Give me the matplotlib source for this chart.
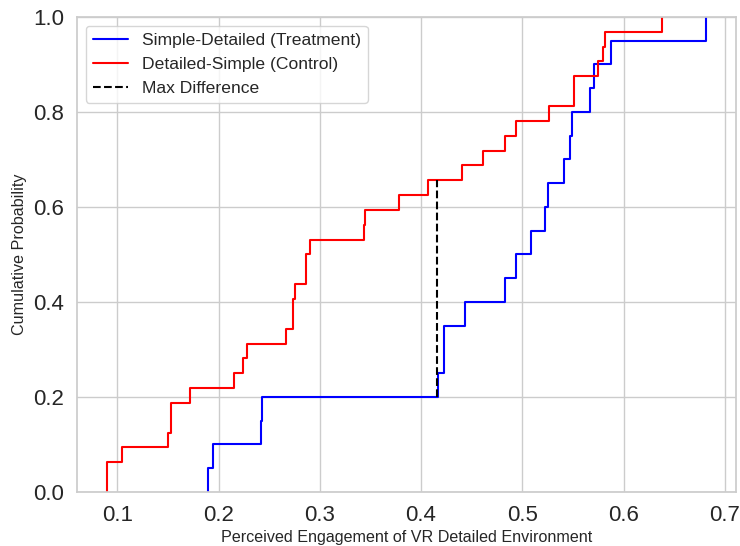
import numpy as np
import matplotlib
matplotlib.use("Agg")
import matplotlib.pyplot as plt
import seaborn as sns

# engagement scores per group
treatment = [0.1898, 0.1950, 0.2416, 0.2426, 0.4171, 0.4231, 0.4231, 0.4439,
             0.4825, 0.4934, 0.5089, 0.5221, 0.5254, 0.5413, 0.5472, 0.5488,
             0.5667, 0.5706, 0.5881, 0.6818]
control = [0.0898, 0.0898, 0.1047, 0.1498, 0.1532, 0.1532, 0.1723, 0.2152,
           0.2238, 0.2277, 0.2667, 0.2739, 0.2739, 0.2759, 0.2868, 0.2868,
           0.2904, 0.3439, 0.3449, 0.3785, 0.4066, 0.4403, 0.4614, 0.4832,
           0.4940, 0.5264, 0.5512, 0.5512, 0.5749, 0.5799, 0.5815, 0.6376]
max_diff_x = 0.4158

sns.set_theme(style="whitegrid")
plt.rcParams['font.family'] = ['Liberation Sans', 'DejaVu Sans']

fig, ax = plt.subplots(figsize=(7.4, 5.46), dpi=100)

sns.ecdfplot(x=treatment, ax=ax, color='blue', linewidth=1.5, label='Simple-Detailed (Treatment)')
sns.ecdfplot(x=control, ax=ax, color='red', linewidth=1.5, label='Detailed-Simple (Control)')

# KS statistic location: vertical gap between the two ECDFs
t_sorted = np.sort(treatment)
c_sorted = np.sort(control)
y_t = np.searchsorted(t_sorted, max_diff_x, side='right') / len(t_sorted)
y_c = np.searchsorted(c_sorted, max_diff_x, side='right') / len(c_sorted)
ax.vlines(max_diff_x, y_t, y_c, colors='black', linestyles='--', linewidth=1.5, label='Max Difference')

ax.set_ylim(0, 1)
ax.set_xlabel('Perceived Engagement of VR Detailed Environment', fontsize=11.6, labelpad=3)
ax.set_ylabel('Cumulative Probability', fontsize=11.6)
ax.tick_params(axis='both', labelsize=16)
ax.legend(loc='upper left', fontsize=12.6)

fig.subplots_adjust(left=0.104, right=0.995, top=0.969, bottom=0.099)
fig.savefig('out.png', dpi=100)
